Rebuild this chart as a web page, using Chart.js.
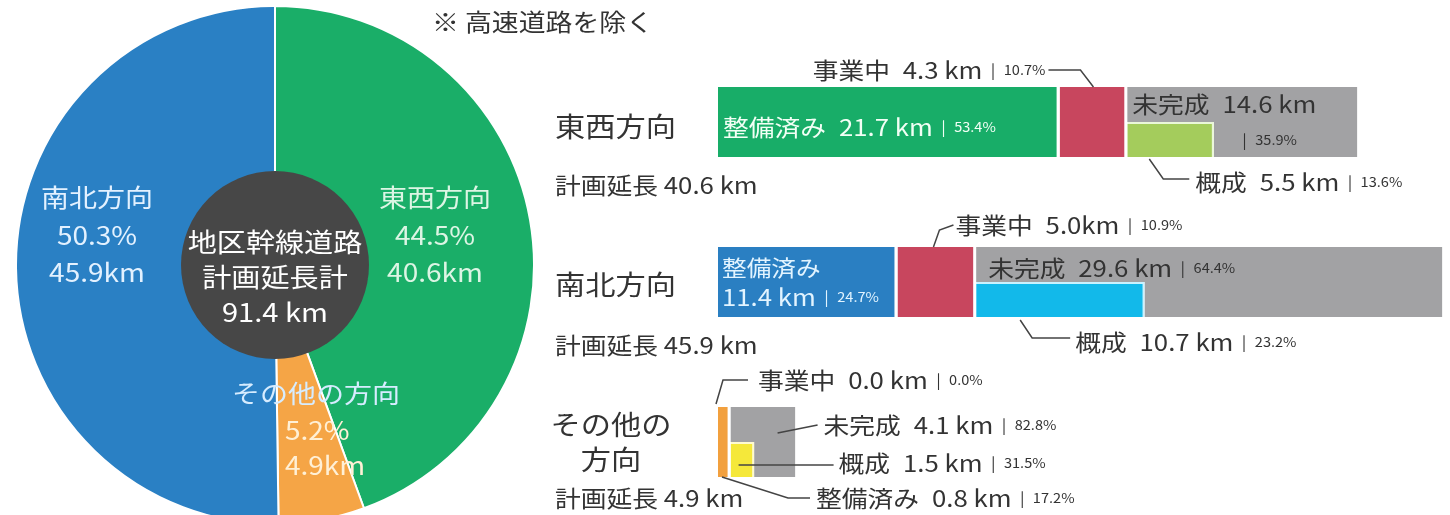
<!DOCTYPE html>
<html lang="ja">
<head>
<meta charset="utf-8">
<script src="https://cdn.jsdelivr.net/npm/chart.js@4.4.1/dist/chart.umd.min.js"></script>
<style>
html, body { margin: 0; padding: 0; background: #fff; overflow: hidden; width: 1450px; height: 515px; }
#pie { position: absolute; left: 15px; top: 5px; }
#bars { position: absolute; left: 0; top: 0; }
</style>
</head>
<body>
<canvas id="pie" width="520" height="520"></canvas>
<canvas id="bars" width="1450" height="540"></canvas>
<script>
// ── DATOS ──
var pieLabels = ['東西方向', 'その他の方向', '南北方向'];
var pieKm = [40.6, 4.9, 45.9];
var piePct = [44.5, 5.2, 50.3];
var totalKm = 91.4;

var dirLabels = ['東西方向', '南北方向', 'その他の方向'];
var planKm = [40.6, 45.9, 4.9];
var seibiKm = [21.7, 11.4, 0.8];
var seibiPct = [53.4, 24.7, 17.2];
var jigyoKm = [4.3, 5.0, 0.0];
var jigyoPct = [10.7, 10.9, 0.0];
var mikanKm = [14.6, 29.6, 4.1];
var mikanPct = [35.9, 64.4, 82.8];
var gaiseiKm = [5.5, 10.7, 1.5];
var gaiseiPct = [13.6, 23.2, 31.5];

var pieColors = ['#1aae68', '#f5a546', '#2a80c4'];
var seibiColors = ['#18ad68', '#2a7fc2', '#f2a03e'];
var gaiseiColors = ['#a4cc5c', '#12b9ea', '#f5e83a'];
var gaiseiEdge = ['#eaf7d8', '#c8f2ff', '#fffbd0'];
var RED = '#c8465e';
var GREY = '#a2a2a4';

var FONT = '"Noto Sans CJK JP", "Noto Sans", sans-serif';
var SX = 1.12;

// dibuja una secuencia de textos [texto, tamaño, color]
function drawRuns(ctx, x, y, runs, align) {
    var w = 0;
    runs.forEach(function(r) { ctx.font = r[1] + 'px ' + FONT; w += ctx.measureText(r[0]).width * SX; });
    if (align === 'right') x -= w;
    else if (align === 'center') x -= w / 2;
    ctx.textBaseline = 'middle';
    ctx.textAlign = 'left';
    runs.forEach(function(r) {
        ctx.font = r[1] + 'px ' + FONT;
        ctx.fillStyle = r[2] || '#333';
        ctx.save();
        ctx.translate(x, y);
        ctx.scale(SX, 1);
        ctx.fillText(r[0], 0, 0);
        ctx.restore();
        x += ctx.measureText(r[0]).width * SX;
    });
}

function seg(name, km, pct, color, unit) {
    return [[name + '\u2002' + km.toFixed(1) + (unit || ' km'), 23, color], ['\u2002|\u2002', 15, color], [pct.toFixed(1) + '%', 13, color]];
}

function leader(ctx, pts) {
    ctx.beginPath();
    ctx.moveTo(pts[0][0], pts[0][1]);
    for (var k = 1; k < pts.length; k++) ctx.lineTo(pts[k][0], pts[k][1]);
    ctx.strokeStyle = '#444';
    ctx.lineWidth = 1.5;
    ctx.stroke();
}

// ── PIE ──
var pieText = {
    id: 'pieText',
    afterDatasetsDraw: function(chart) {
        var ctx = chart.ctx;
        var arcs = chart.getDatasetMeta(0).data;
        var cx = arcs[0].x, cy = arcs[0].y;
        ctx.save();
        ctx.beginPath();
        ctx.arc(cx, cy, arcs[0].innerRadius + 2, 0, Math.PI * 2);
        ctx.fillStyle = '#474747';
        ctx.fill();

        drawRuns(ctx, cx, cy - 23, [['地区幹線道路', 26, '#fff']], 'center');
        drawRuns(ctx, cx, cy + 12, [['計画延長計', 26, '#fff']], 'center');
        drawRuns(ctx, cx, cy + 47, [[totalKm.toFixed(1) + ' km', 26, '#fff']], 'center');

        // 東西
        drawRuns(ctx, cx + 160, cy - 68, [[pieLabels[0], 25, '#dcf5e4']], 'center');
        drawRuns(ctx, cx + 160, cy - 30, [[piePct[0].toFixed(1) + '%', 25, '#dcf5e4']], 'center');
        drawRuns(ctx, cx + 160, cy + 7, [[pieKm[0].toFixed(1) + 'km', 25, '#dcf5e4']], 'center');
        // 南北
        drawRuns(ctx, cx - 178, cy - 68, [[pieLabels[2], 25, '#e3f1ff']], 'center');
        drawRuns(ctx, cx - 178, cy - 30, [[piePct[2].toFixed(1) + '%', 25, '#e3f1ff']], 'center');
        drawRuns(ctx, cx - 178, cy + 7, [[pieKm[2].toFixed(1) + 'km', 25, '#e3f1ff']], 'center');
        // その他
        drawRuns(ctx, cx + 41, cy + 128, [[pieLabels[1], 25, '#d6ecff']], 'center');
        drawRuns(ctx, cx + 10, cy + 165, [[piePct[1].toFixed(1) + '%', 25, '#fff0d6']]);
        drawRuns(ctx, cx + 10, cy + 200, [[pieKm[1].toFixed(1) + 'km', 25, '#fff0d6']]);
        ctx.restore();
    }
};

new Chart(document.getElementById('pie'), {
    type: 'doughnut',
    data: {
        labels: pieLabels,
        datasets: [{ data: pieKm, backgroundColor: pieColors, borderColor: '#fff', borderWidth: 2 }]
    },
    options: {
        responsive: false, animation: false, cutout: 92,
        plugins: { legend: { display: false }, tooltip: { enabled: false } }
    },
    plugins: [pieText]
});

// ── BARRAS ──
var mikanRest = mikanKm.map(function(v, i) { return Math.round((v - gaiseiKm[i]) * 10) / 10; });
var gap = { top: 0, right: 3, bottom: 0, left: 0 };

var barText = {
    id: 'barText',
    afterDatasetsDraw: function(chart) {
        var ctx = chart.ctx;
        function bar(d, i) {
            var el = chart.getDatasetMeta(d).data[i];
            return { l: Math.min(el.x, el.base), r: Math.max(el.x, el.base), t: el.y - el.height / 2, b: el.y + el.height / 2 };
        }
        ctx.save();
        drawRuns(ctx, 432, 22, [['※ 高速道路を除く', 24]]);

        // 東西方向
        var cy = chart.scales.y.getPixelForValue(0);
        drawRuns(ctx, 555, cy + 5, [[dirLabels[0], 27]]);
        drawRuns(ctx, 555, cy + 63, [['計画延長 ' + planKm[0].toFixed(1) + ' km', 23]]);
        var s = bar(0, 0);
        drawRuns(ctx, s.l + 5, cy + 5, seg('整備済み', seibiKm[0], seibiPct[0], '#f2fff5'));
        var j = bar(1, 0), jx = (j.l + j.r) / 2;
        leader(ctx, [[jx, j.t], [jx - 13, j.t - 17], [jx - 45, j.t - 17]]);
        drawRuns(ctx, jx - 48, j.t - 17, seg('事業中', jigyoKm[0], jigyoPct[0]), 'right');
        var m = bar(2, 0);
        drawRuns(ctx, m.l + 5, cy - 18, [['未完成\u2002' + mikanKm[0].toFixed(1) + ' km', 23]]);
        drawRuns(ctx, m.l + 115, cy + 18, [['|\u2002', 15], [mikanPct[0].toFixed(1) + '%', 13]]);
        var g = bar(5, 0);
        leader(ctx, [[g.l + 22, g.b + 2], [g.l + 36, g.b + 22], [g.l + 62, g.b + 22]]);
        drawRuns(ctx, g.l + 68, g.b + 25, seg('概成', gaiseiKm[0], gaiseiPct[0]));

        // 南北方向
        cy = chart.scales.y.getPixelForValue(1);
        drawRuns(ctx, 555, cy + 3, [[dirLabels[1], 27]]);
        drawRuns(ctx, 555, cy + 63, [['計画延長 ' + planKm[1].toFixed(1) + ' km', 23]]);
        s = bar(0, 1);
        drawRuns(ctx, s.l + 4, cy - 14, [['整備済み', 22, '#e2f4ff']]);
        drawRuns(ctx, s.l + 4, cy + 15, [[seibiKm[1].toFixed(1) + ' km', 23, '#e2f4ff'], ['\u2002|\u2002', 15, '#e2f4ff'], [seibiPct[1].toFixed(1) + '%', 13, '#e2f4ff']]);
        j = bar(1, 1);
        leader(ctx, [[j.l + 36, j.t], [j.l + 42, j.t - 17], [j.l + 56, j.t - 22]]);
        drawRuns(ctx, j.l + 58, j.t - 22, seg('事業中', jigyoKm[1], jigyoPct[1], '#333', 'km'));
        m = bar(2, 1);
        drawRuns(ctx, m.l + 12, cy - 14, seg('未完成', mikanKm[1], mikanPct[1]));
        g = bar(5, 1);
        leader(ctx, [[g.l + 44, g.b + 3], [g.l + 56, g.b + 21], [g.l + 94, g.b + 21]]);
        drawRuns(ctx, g.l + 99, g.b + 25, seg('概成', gaiseiKm[1], gaiseiPct[1]));

        // その他の方向
        cy = chart.scales.y.getPixelForValue(2);
        drawRuns(ctx, 611, cy - 17, [['その他の', 27]], 'center');
        drawRuns(ctx, 611, cy + 18, [['方向', 27]], 'center');
        drawRuns(ctx, 555, cy + 56, [['計画延長 ' + planKm[2].toFixed(1) + ' km', 23]]);
        var o = bar(0, 2), ob = bar(3, 2);
        leader(ctx, [[o.l - 2, o.t - 3], [o.l + 5, o.t - 27], [o.l + 30, o.t - 27]]);
        drawRuns(ctx, o.l + 40, o.t - 27, seg('事業中', jigyoKm[2], jigyoPct[2]));
        m = bar(2, 2);
        leader(ctx, [[m.l + 47, cy - 9], [m.l + 87, cy - 17]]);
        drawRuns(ctx, m.l + 93, cy - 17, seg('未完成', mikanKm[2], mikanPct[2]));
        g = bar(5, 2);
        leader(ctx, [[g.l + 8, cy + 23], [g.l + 103, cy + 23]]);
        drawRuns(ctx, g.l + 108, cy + 21, seg('概成', gaiseiKm[2], gaiseiPct[2]));
        leader(ctx, [[ob.l + 4, ob.b], [ob.l + 70, ob.b + 21], [ob.l + 92, ob.b + 21]]);
        drawRuns(ctx, ob.l + 98, ob.b + 21, seg('整備済み', seibiKm[2], seibiPct[2]));
        ctx.restore();
    }
};

new Chart(document.getElementById('bars'), {
    type: 'bar',
    data: {
        labels: dirLabels,
        datasets: [
            { label: '整備済み', data: seibiKm, stack: 'top', backgroundColor: seibiColors, borderColor: '#fff', borderWidth: gap },
            { label: '事業中', data: jigyoKm, stack: 'top', backgroundColor: RED, borderColor: '#fff', borderWidth: gap },
            { label: '未完成', data: mikanKm, stack: 'top', backgroundColor: GREY, borderWidth: 0 },
            { label: '整備済み', data: seibiKm, stack: 'bot', backgroundColor: seibiColors, borderColor: '#fff', borderWidth: gap },
            { label: '事業中', data: jigyoKm, stack: 'bot', backgroundColor: RED, borderColor: '#fff', borderWidth: gap },
            { label: '概成', data: gaiseiKm, stack: 'bot', backgroundColor: gaiseiColors, borderColor: gaiseiEdge, borderWidth: { top: 2, right: 2, bottom: 0, left: 0 } },
            { label: '未完成', data: mikanRest, stack: 'bot', backgroundColor: GREY, borderWidth: 0 }
        ]
    },
    options: {
        indexAxis: 'y',
        responsive: false, animation: false,
        layout: { padding: { left: 718, right: 0, top: 42, bottom: 18 } },
        datasets: { bar: { categoryPercentage: 0.4375, barPercentage: 1 } },
        scales: {
            x: { display: false, stacked: true, min: 0, max: 46.5 },
            y: { display: false, stacked: true }
        },
        plugins: { legend: { display: false }, tooltip: { enabled: false } }
    },
    plugins: [barText]
});
</script>
</body>
</html>
